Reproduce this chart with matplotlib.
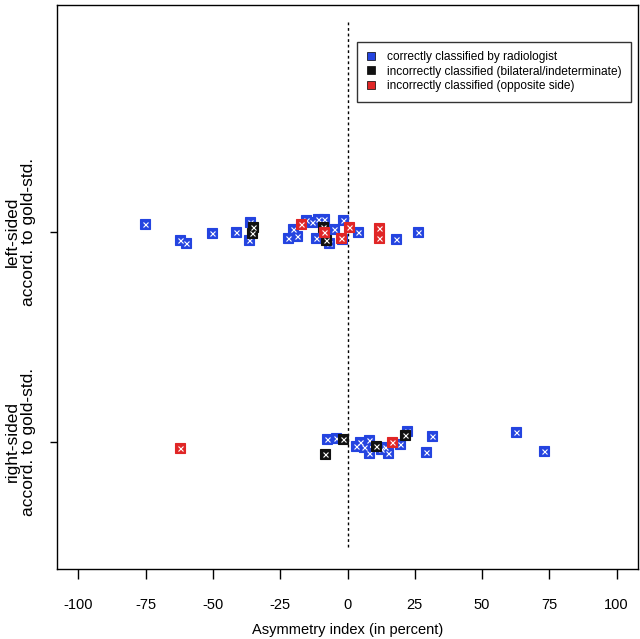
import matplotlib
matplotlib.use("Agg")
import matplotlib.pyplot as plt
from matplotlib.lines import Line2D

plt.rcParams["font.family"] = ["Liberation Sans", "DejaVu Sans"]

# ── Data (asymmetry index, jittered group position) ───────────────────────
# group 2 = left-sided, group 1 = right-sided
BLUE_X = [-75.1, -62.1, -59.9, -50.3, -41.3, -36.4, -36.7, -22.0, -20.3, -18.6,
          -15.4, -13.1, -10.9, -8.8, -11.8, -6.7, -5.1, -1.7, -2.0, 3.8, 18.0, 26.1,
          -7.5, -4.1, 3.3, 4.8, 6.1, 7.9, 8.1, 12.3, 14.1, 15.0, 19.5, 22.2,
          31.5, 29.3, 62.8, 73.0]
BLUE_Y = [2.037, 1.959, 1.946, 1.994, 1.998, 2.046, 1.962, 1.973, 2.013, 1.982,
          2.057, 2.046, 2.062, 2.062, 1.973, 1.949, 2.014, 2.057, 1.967, 1.999, 1.967, 1.999,
          1.014, 1.018, 0.981, 1.001, 0.978, 1.010, 0.949, 0.965, 0.978, 0.946, 0.989, 1.052,
          1.030, 0.951, 1.046, 0.957]

BLACK_X = [-35.0, -35.4, -9.2, -8.1, -1.7, -8.4, 10.7, 21.3]
BLACK_Y = [2.025, 1.994, 2.025, 1.962, 1.013, 0.941, 0.982, 1.033]

RED_X = [-17.2, -8.8, -2.6, 0.6, 11.6, 11.6, -62.1, 16.6]
RED_Y = [2.035, 1.999, 1.973, 2.025, 2.020, 1.973, 0.970, 0.999]

SERIES = [
    ("correctly classified by radiologist", "#2444e0", BLUE_X, BLUE_Y),
    ("incorrectly classified (bilateral/indeterminate)", "#111111", BLACK_X, BLACK_Y),
    ("incorrectly classified (opposite side)", "#e02626", RED_X, RED_Y),
]

X_TICKS = [-100, -75, -50, -25, 0, 25, 50, 75, 100]
Y_LEVELS = [2, 1]
Y_LABELS = [("left-sided", "accord. to gold-std."),
            ("right-sided", "accord. to gold-std.")]

# ── Plot ──────────────────────────────────────────────────────────────────
fig = plt.figure(figsize=(6.40, 6.39), dpi=100)
ax = fig.add_axes([0.089, 0.1096, 0.908, 0.8826])

ax.plot([0, 0], [0.5, 3.0], color="black", lw=1, ls=(0, (2, 2)))

for label, color, xs, ys in SERIES:
    ax.plot(xs, ys, ls="none", marker="s", ms=7.6, mfc=color, mec=color, mew=0.8)
    ax.plot(xs, ys, ls="none", marker="x", ms=3.6, mec="white", mew=0.8)

ax.set_xlim(-108, 108)
ax.set_ylim(0.395, 3.08)
ax.set_xticks(X_TICKS)
ax.set_xticklabels([str(t) for t in X_TICKS])
ax.set_yticks(Y_LEVELS)
ax.set_yticklabels([])
ax.tick_params(axis="x", length=7, width=1, pad=14, labelsize=10.5)
ax.tick_params(axis="y", length=5, width=1)
ax.set_xlabel("Asymmetry index (in percent)", fontsize=10.5, labelpad=8)
for sp in ax.spines.values():
    sp.set_linewidth(1)

# two-line rotated group labels, placed in figure pixels
for yv, (l1, l2) in zip(Y_LEVELS, Y_LABELS):
    yfig = fig.transFigure.inverted().transform(ax.transData.transform((0, yv)))[1]
    fig.text(12 / 640, yfig, l1, rotation=90, ha="center", va="center", fontsize=12.5)
    fig.text(29 / 640, yfig, l2, rotation=90, ha="center", va="center", fontsize=12.5)

handles = [Line2D([], [], ls="none", marker="s", ms=5.5, mfc=c, mec="black", mew=0.5,
                  label=lab) for lab, c, _, _ in SERIES]
leg = ax.legend(handles=handles, loc="upper right", bbox_to_anchor=(0.988, 0.935),
                borderaxespad=0, fontsize=8.6, frameon=True, fancybox=False,
                handlelength=0.8, handletextpad=0.9, borderpad=0.8, labelspacing=0.2)
leg.get_frame().set_edgecolor("black")
leg.get_frame().set_linewidth(1)

fig.savefig("out.png", dpi=100, facecolor="white")
